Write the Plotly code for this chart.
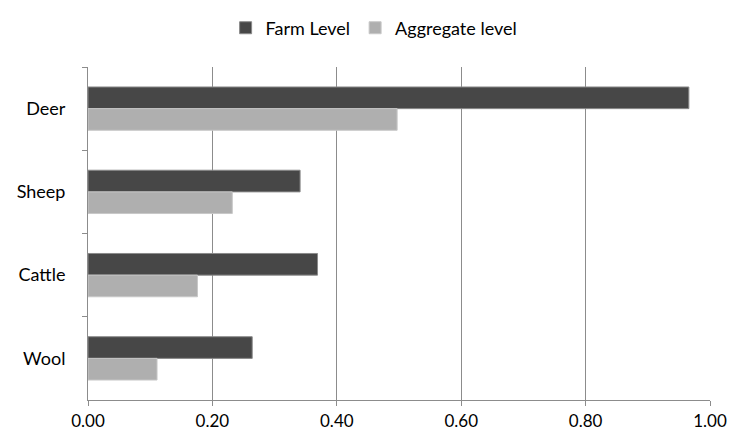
import plotly.graph_objects as go

# Livestock sectors, top to bottom
categories = ["Deer", "Sheep", "Cattle", "Wool"]
farm_level = [0.966, 0.341, 0.369, 0.264]
aggregate_level = [0.497, 0.232, 0.176, 0.111]
x_ticks = [0.0, 0.2, 0.4, 0.6, 0.8, 1.0]

FONT = "Lato, Open Sans, sans-serif"

fig = go.Figure()
fig.add_trace(go.Bar(
    y=categories, x=farm_level, orientation="h", name="Farm Level",
    marker=dict(color="#474747", line=dict(color="#8a8a8a", width=1)),
))
fig.add_trace(go.Bar(
    y=categories, x=aggregate_level, orientation="h", name="Aggregate level",
    marker=dict(color="#afafaf", line=dict(color="#c8c8c8", width=1)),
))

fig.update_layout(
    width=731, height=431,
    margin=dict(l=88, r=21, t=67, b=31, autoexpand=False),
    paper_bgcolor="white", plot_bgcolor="white",
    barmode="group", bargap=0.48, bargroupgap=0,
    font=dict(family=FONT, size=18, color="#000000"),
    legend=dict(
        orientation="h", x=0.46, xanchor="center", y=1.117, yanchor="middle",
        font=dict(size=18), itemwidth=30, traceorder="normal",
    ),
    showlegend=True,
)
fig.update_xaxes(
    range=[0, 1.0], tickvals=x_ticks, tickformat=".2f",
    showgrid=True, gridcolor="#8c8c8c", gridwidth=1,
    showline=True, linecolor="#8c8c8c", linewidth=1,
    ticks="outside", ticklen=5, tickcolor="#8c8c8c",
    zeroline=False, tickfont=dict(size=17), ticklabelstandoff=1,
)
fig.update_yaxes(
    autorange="reversed", showgrid=False,
    showline=True, linecolor="#8c8c8c", linewidth=1,
    ticks="outside", ticklen=5, tickcolor="#8c8c8c", tickson="boundaries",
    tickfont=dict(size=18), ticklabelstandoff=18,
)

fig.write_html("out.html")
